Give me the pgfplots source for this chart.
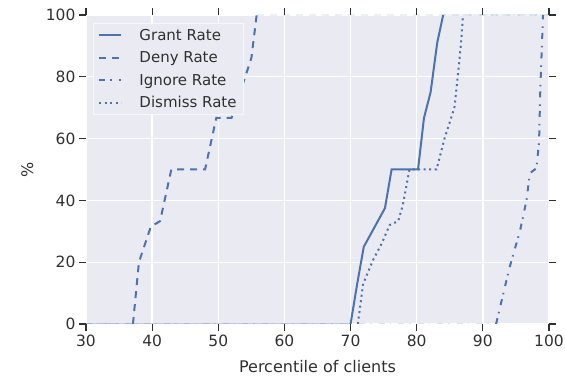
\documentclass[border=0pt]{standalone}
\usepackage{fontspec}
\setmainfont{DejaVu Sans}
\usepackage{pgfplots}
\pgfplotsset{compat=1.18}
\definecolor{bg}{HTML}{EAEAF2}
\definecolor{sb}{HTML}{4C72B0}
\definecolor{txt}{HTML}{303030}
\begin{document}
\begin{tikzpicture}
\begin{axis}[
  scale only axis, width=463pt, height=309pt,
  xmin=30, xmax=100, ymin=0, ymax=100,
  xtick={30,40,...,100}, ytick={0,20,...,100},
  axis background/.style={fill=bg},
  axis line style={draw=none},
  grid=major, major grid style={white, line width=1.3pt},
  tick align=outside, major tick length=7pt,
  tick style={txt, line width=1.1pt},
  every tick label/.append style={font=\fontsize{15.5}{18}\selectfont, text=txt},
  /pgf/number format/assume math mode=true,
  xlabel={Percentile of clients}, ylabel={\%},
  label style={font=\fontsize{16}{19}\selectfont, text=txt},
  xlabel style={at={(axis description cs:0.5,-0.139)}, anchor=center},
  ylabel style={at={(axis description cs:-0.127,0.5)}, anchor=center},
  legend style={at={(axis description cs:0.0151,0.974)}, anchor=north west,
    fill=bg, draw=white!97!black, line width=1pt,
    font=\fontsize{15}{18}\selectfont, text=txt,
    inner xsep=5pt, inner ysep=3.5pt, row sep=6pt, cells={anchor=west},
    /tikz/every odd column/.append style={column sep=15pt}},
  legend image code/.code={\draw[#1] (0pt,0pt) -- (22pt,0pt);},
  every axis plot/.append style={sb, line width=2pt},
]
\addplot[solid] coordinates {(70,0) (71,13) (72,25) (75.2,37.5) (76.2,50) (80.2,50) (81.1,66.7) (82.1,75) (83.1,91) (84,100)};
\addlegendentry{Grant Rate}
\addplot[dash pattern=on 7pt off 6pt] coordinates {(37.1,0) (38,20) (39.8,31.5) (41.2,33.3) (42.9,50) (48,50) (49.7,66.7) (52,66.7) (55,86) (55.8,100)};
\addlegendentry{Deny Rate}
\addplot[dash pattern=on 6pt off 5pt on 1.5pt off 7pt] coordinates {(92,0) (94,18) (95.6,30) (96.6,40) (97.1,48.8) (98.1,50.4) (98.5,59) (98.7,77) (99.1,100)};
\addlegendentry{Ignore Rate}
\addplot[dash pattern=on 2pt off 3.5pt] coordinates {(71.1,0) (71.9,13) (73.4,20.7) (74.7,26) (75.9,32) (77.2,33.3) (77.9,38.5) (78.9,50) (83,50) (84.2,60) (85.7,70) (86.2,80) (86.7,90.8) (87,100)};
\addlegendentry{Dismiss Rate}
% faint parts of the series that run along the edges of the plot area
\addplot[forget plot, solid, opacity=0.35] coordinates {(30,0) (70,0)};
\addplot[forget plot, solid, opacity=0.08] coordinates {(84,100) (100,100)};
\addplot[forget plot, dash pattern=on 7pt off 6pt, opacity=0.12] coordinates {(30,0) (37.1,0)};
\addplot[forget plot, dash pattern=on 7pt off 6pt, opacity=0.1] coordinates {(55.8,100) (100,100)};
\addplot[forget plot, dash pattern=on 6pt off 5pt on 1.5pt off 7pt, opacity=0.2] coordinates {(30,0) (92,0)};
\addplot[forget plot, dash pattern=on 2pt off 3.5pt, opacity=0.08] coordinates {(87,100) (100,100)};
\coordinate (bl) at (rel axis cs:0,0);
\coordinate (tr) at (rel axis cs:1,1);
\end{axis}
\pgfresetboundingbox
\path ([shift={(-86pt,-53pt)}]bl) rectangle ([shift={(16pt,15pt)}]tr);
\end{tikzpicture}
\end{document}
